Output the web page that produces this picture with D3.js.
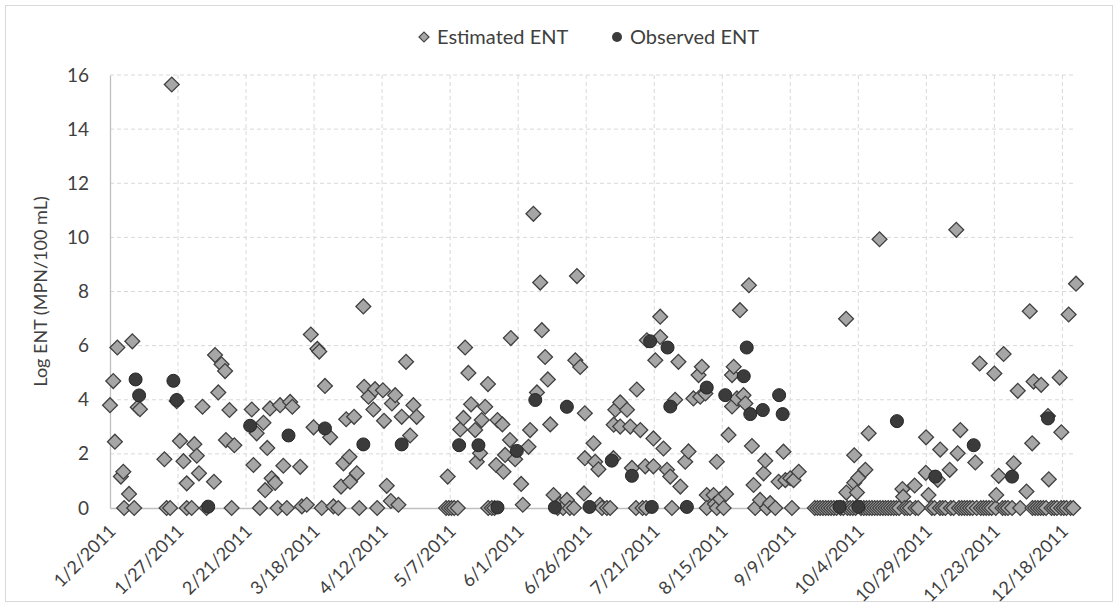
<!DOCTYPE html>
<html>
<head>
<meta charset="utf-8">
<script src="https://cdn.jsdelivr.net/npm/d3@7"></script>
<style>
  body { margin: 0; background: #fff; }
  text { font-family: Lato, "Open Sans", sans-serif; fill: #404040; }
</style>
</head>
<body>
<div id="chart"></div>
<script>
// data: [days after 1/2/2011, log ENT]
const estimated = [
  [0,3.8],[1.2,4.69],[1.8,2.45],[2.7,5.93],[4,1.16],[4.9,1.34],[5.2,0],[7,0.52],[8.2,6.16],[8.9,0],[10.2,3.72],[11,3.65],
  [20,1.8],[20.8,0],[22.1,0],[22.7,15.65],[24.5,3.95],[25.7,2.48],[27,1.73],[28.2,0.91],[28.2,0],[30,0],[31,2.36],[31.9,1.93],
  [32.7,1.28],[34,3.74],[35.5,0],[38.2,0.97],[38.6,5.65],[39.8,4.27],[41,5.31],[42.3,5.06],[42.6,2.51],[43.9,3.62],[44.7,0],[45.7,2.32],
  [52.1,3.64],[52.7,1.59],[53.9,2.76],[55.1,0],[56.4,3.15],[57,0.66],[57.8,2.22],[58.8,3.68],[59.4,1.1],[60.7,0.93],[61.6,0],
  [62.5,3.8],[63.7,1.56],[65,0],[66.2,3.92],[67,3.74],[69.9,1.52],[70.5,0.06],[72.3,0.12],[73.8,6.41],[74.8,2.98],[76.2,5.88],
  [76.9,5.78],[77.8,0],[79,4.51],[80.9,2.61],[82.1,0.06],[83.9,0],[84.9,0.79],[85.8,1.65],[86.8,3.28],[88,1.89],[88.2,0.97],
  [89.7,3.37],[90.7,1.28],[91.6,0],[93.1,7.45],[93.4,4.48],[95,4.11],[96.8,3.64],[97.4,4.39],[98.2,0],[100.3,4.35],[100.7,3.22],
  [101.7,0.82],[103.2,0.26],[103.6,3.86],[104.8,4.17],[106,0.12],[107.2,3.37],[108.8,5.4],[110.3,2.68],[111.5,3.8],[112.7,3.37],
  [123.5,0],[124.1,1.16],[124.5,0],[125.5,0],[126.5,0],[127.8,0],[128.7,2.9],[129.9,3.33],[130.5,5.93],[131.7,4.99],[132.7,3.83],
  [134.2,2.88],[134.8,1.71],[136,2.02],[136.6,3.25],[137.9,3.74],[138.9,4.58],[139,0],[140.3,0],[141.3,0],[141.9,1.59],[142.4,3.25],
  [144.2,3.09],[144.6,1.34],[145.2,1.96],[147,2.51],[147.3,6.28],[148.9,1.8],[151.1,0.89],[151.7,0.12],[153.8,2.26],[154.4,2.88],
  [155.6,10.87],[156.9,4.27],[158.1,8.33],[158.7,6.57],[159.9,5.58],[160.9,4.75],[161.8,3.09],[163,0.48],[164.5,0],[165.4,0.15],
  [166.5,0],[167.9,0.3],[169,0],[170.5,0],[171,5.46],[171.6,8.57],[172.8,5.21],[174.2,0.54],[174.5,3.5],[174.5,1.84],
  [177.7,2.39],[178.3,1.71],[179.5,1.43],[180.1,0.12],[180.8,0],[182.6,0],[183.8,0],[185,1.84],[185.1,3.08],[185.7,3.63],
  [187.5,3.9],[187.5,3.01],[190,3.63],[191.2,3.01],[191.8,1.48],[193.3,0],[193.6,4.38],[194.9,2.88],[195.7,0],[196.7,1.54],
  [197,0],[197.3,6.2],[199.7,2.57],[199.7,1.54],[200.4,5.46],[202.2,7.07],[202.2,6.32],[203.4,2.2],[204.7,1.41],[205.9,1.16],
  [206.5,0],[207.7,4],[208.9,5.4],[209.6,0.79],[211.4,1.71],[212.6,2.09],[214.4,4.05],[216.3,4.91],[216.9,4.11],[217.5,5.22],
  [218.8,4.23],[219.3,0.48],[219.3,0],[221.8,0.48],[222.3,0.15],[223,1.71],[223,0],[224.3,0.33],[225.5,0],[226.4,0.52],
  [227.3,2.7],[228.6,4.91],[228.6,3.75],[229.2,5.22],[230.4,4.05],[231.5,7.31],[232.8,4.17],[233.5,3.86],[234.8,8.23],
  [235.9,2.29],[236.5,0.85],[237.1,0],[238.9,0.3],[240.2,1.28],[240.8,1.75],[241.4,0],[242.6,0.18],[244.5,0],[245.7,0.97],
  [247.5,2.08],[248.2,1.03],[250,1.1],[250.6,0],[251.2,1.03],[253.1,1.34],
  [259,0],[260,0],[261,0],[262,0],[263,0],[264,0],[265,0],[266,0],[267,0],[268.5,0],[269.5,0],[270.6,0.57],[270.5,6.99],
  [271,0],[272,0],[273,0],[273.5,0.93],[273.5,1.95],[274,0],[274.5,0.57],[275,1.12],[276,0],[277,0],[277.6,1.41],[278,0],
  [278.8,2.76],[279,0],[280,0],[281,0],[282,0],[282.8,9.93],[283,0],[284,0],[285,0],[286,0],[287,0],[288,0],[289,0],[290,0],
  [291.2,0.7],[291.5,0.42],[292,0],[293,0],[294,0],[295.7,0.83],[296,0],[297,0],[299.8,1.3],[299.9,2.61],[300.8,0.48],
  [302,0],[303,0],[304.2,1.04],[305,0],[305.1,2.16],[306,0],[307,0],[308.6,1.41],[309,0],[310,0],[311,10.28],[311.5,2.02],
  [312,0],[312.5,2.88],[313,0],[314,0],[315,0],[316,0],[317,0],[318,1.68],[318.5,0],[319.6,5.34],[320,0],[321,0],[322,0],
  [323,0],[324,0],[325,4.97],[325.5,0],[325.7,0.48],[326.6,1.19],[328,0],[328.4,5.69],[329,0],[330,0],[331.5,0],[332.1,1.65],
  [333.6,4.33],[334.5,0],[336.8,0.61],[338,7.27],[338.9,2.39],[339,0],[339.4,4.67],[340,0],[341,0],[342,0],[342.2,4.55],
  [343,0],[344,0],[344.7,3.4],[345,1.06],[346,0],[347,0],[348,0],[349,4.82],[349.5,0],[349.6,2.8],[350.5,0],[351.5,0],
  [352.3,7.15],[353,0],[354,0],[355,8.29]
]

const observed = [
  [9.4,4.75],[10.7,4.16],[23.3,4.7],[24.5,3.99],[36.1,0.05],[51.5,3.04],[65.6,2.68],[79,2.94],[93.1,2.35],[107.2,2.35],
  [128.3,2.32],[135.4,2.32],[142.4,0.02],[149.5,2.11],[156.3,3.99],[163.5,0.02],[167.9,3.74],[176.2,0.04],[184.4,1.75],
  [191.8,1.19],[198.5,6.16],[199.1,0.04],[204.9,5.93],[205.9,3.75],[212,0.04],[219.3,4.45],[226.1,4.17],[232.9,4.87],
  [234,5.93],[235.3,3.47],[239.9,3.62],[245.9,4.17],[247.2,3.47],[268.1,0.04],[275,0.04],[289.2,3.21],[303.3,1.16],
  [317.4,2.32],[331.5,1.16],[344.7,3.31]
]

const xTickLabels = ["1/2/2011","1/27/2011","2/21/2011","3/18/2011","4/12/2011","5/7/2011","6/1/2011","6/26/2011",
  "7/21/2011","8/15/2011","9/9/2011","10/4/2011","10/29/2011","11/23/2011","12/18/2011"]
const yTicks = [0,2,4,6,8,10,12,14,16]
const seriesNames = ["Estimated ENT","Observed ENT"]

const width = 1118, height = 607
const plot = {left: 110, right: 1076, top: 75, bottom: 508}

const parse = d3.timeParse("%m/%d/%Y")
const start = parse(xTickLabels[0])
const toDate = d => new Date(start.getTime() + d * 864e5)
const xTicks = xTickLabels.map(parse)

const svg = d3.select("#chart")
  .append("svg")
    .attr("width", width)
    .attr("height", height)

// chart border
svg.append("rect")
  .attr("x", 5.5).attr("y", 5.5)
  .attr("width", width - 11).attr("height", height - 11)
  .attr("fill", "white")
  .attr("stroke", "#d9d9d9")

const x = d3.scaleTime()
  .domain([start, parse("12/23/2011")])
  .range([plot.left, plot.right])

const y = d3.scaleLinear()
  .domain([0, 16])
  .range([plot.bottom, plot.top])

// gridlines
svg.append("g")
  .selectAll("line")
  .data(yTicks.slice(1))
  .join("line")
    .attr("x1", plot.left).attr("x2", plot.right)
    .attr("y1", d => y(d)).attr("y2", d => y(d))
    .attr("stroke", "#d9d9d9")
    .attr("stroke-dasharray", "4,3")

svg.append("g")
  .selectAll("line")
  .data(xTicks.slice(1))
  .join("line")
    .attr("x1", d => x(d)).attr("x2", d => x(d))
    .attr("y1", plot.top).attr("y2", plot.bottom)
    .attr("stroke", "#d9d9d9")
    .attr("stroke-dasharray", "4,3")

// Y axis
const yAxis = svg.append("g")
  .attr("transform", `translate(${plot.left},0)`)
  .call(d3.axisLeft(y).tickValues(yTicks).tickSize(0).tickPadding(21))
yAxis.select(".domain").attr("stroke", "#bfbfbf").attr("stroke-width", 1.3)
yAxis.selectAll("text").style("font-size", "19px").attr("fill", "#404040")

svg.append("text")
  .text("Log ENT (MPN/100 mL)")
  .attr("transform", `translate(41,${(plot.top + plot.bottom) / 2}) rotate(-90)`)
  .attr("text-anchor", "middle")
  .attr("dy", "0.35em")
  .style("font-size", "18px")

// X axis
const xAxis = svg.append("g")
  .attr("transform", `translate(0,${plot.bottom})`)
  .call(d3.axisBottom(x).tickValues(xTicks).tickFormat((d, i) => xTickLabels[i]).tickSize(0))
xAxis.select(".domain").attr("stroke", "#bfbfbf").attr("stroke-width", 1.3)
xAxis.selectAll("text")
  .style("font-size", "18px")
  .attr("fill", "#404040")
  .attr("text-anchor", "end")
  .attr("y", 0)
  .attr("dy", "0.35em")
  .attr("transform", "translate(2,20) rotate(-45)")

// markers
const diamond = d3.symbol(d3.symbolSquare, 110)

svg.append("g")
  .selectAll("path")
  .data(estimated)
  .join("path")
    .attr("d", diamond)
    .attr("transform", d => `translate(${x(toDate(d[0]))},${y(d[1])}) rotate(45)`)
    .attr("fill", "#a6a6a6")
    .attr("stroke", "#404040")
    .attr("stroke-width", 1.3)

svg.append("g")
  .selectAll("circle")
  .data(observed)
  .join("circle")
    .attr("cx", d => x(toDate(d[0])))
    .attr("cy", d => y(d[1]))
    .attr("r", 6.5)
    .attr("fill", "#3b3b3b")
    .attr("stroke", "#262626")
    .attr("stroke-width", 1)

// legend
const legend = svg.append("g").attr("transform", "translate(0,37)")
legend.append("path")
  .attr("d", d3.symbol(d3.symbolSquare, 50))
  .attr("transform", "translate(424,0) rotate(45)")
  .attr("fill", "#a6a6a6")
  .attr("stroke", "#404040")
  .attr("stroke-width", 1.2)
legend.append("circle")
  .attr("cx", 617).attr("cy", 0).attr("r", 5)
  .attr("fill", "#3b3b3b")
legend.selectAll("text")
  .data(seriesNames)
  .join("text")
    .text(d => d)
    .attr("x", (d, i) => i ? 630 : 437)
    .attr("dy", "0.35em")
    .style("font-size", "20px")
</script>
</body>
</html>
